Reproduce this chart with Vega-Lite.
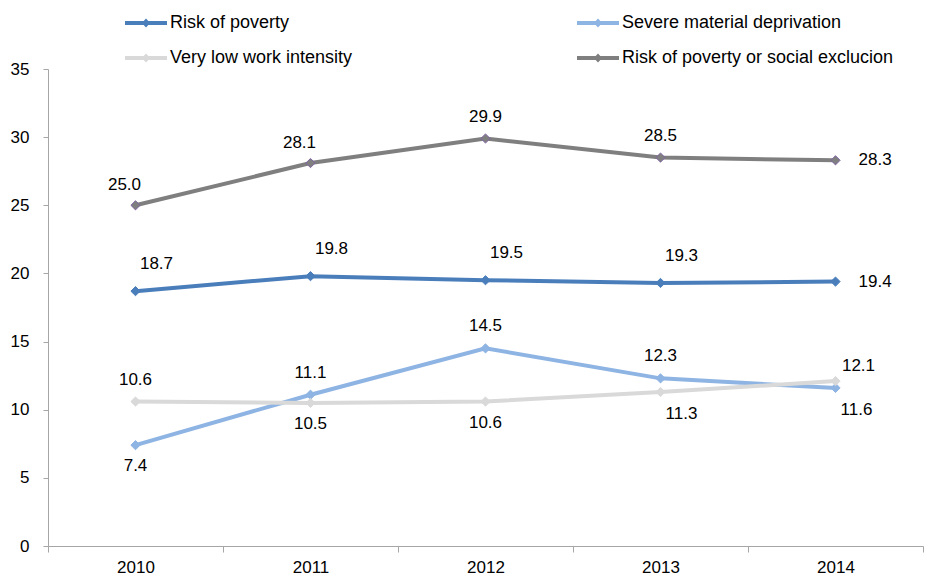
{
  "$schema": "https://vega.github.io/schema/vega-lite/v6.json",
  "width": 875,
  "height": 477,
  "autosize": "none",
  "padding": {"left": 48, "top": 69, "right": 2, "bottom": 32},
  "background": "white",
  "config": {
    "view": {"stroke": null},
    "font": "Liberation Sans",
    "axis": {"labelFont": "Liberation Sans", "labelFontSize": 17, "labelColor": "#000000", "domainColor": "#a6a6a6", "tickColor": "#a6a6a6", "grid": false, "title": null}
  },
  "data": {
    "values": [
      {"year": "2010", "series": "Risk of poverty", "value": 18.7},
      {"year": "2011", "series": "Risk of poverty", "value": 19.8},
      {"year": "2012", "series": "Risk of poverty", "value": 19.5},
      {"year": "2013", "series": "Risk of poverty", "value": 19.3},
      {"year": "2014", "series": "Risk of poverty", "value": 19.4},
      {"year": "2010", "series": "Severe material deprivation", "value": 7.4},
      {"year": "2011", "series": "Severe material deprivation", "value": 11.1},
      {"year": "2012", "series": "Severe material deprivation", "value": 14.5},
      {"year": "2013", "series": "Severe material deprivation", "value": 12.3},
      {"year": "2014", "series": "Severe material deprivation", "value": 11.6},
      {"year": "2010", "series": "Very low work intensity", "value": 10.6},
      {"year": "2011", "series": "Very low work intensity", "value": 10.5},
      {"year": "2012", "series": "Very low work intensity", "value": 10.6},
      {"year": "2013", "series": "Very low work intensity", "value": 11.3},
      {"year": "2014", "series": "Very low work intensity", "value": 12.1},
      {"year": "2010", "series": "Risk of poverty or social exclucion", "value": 25.0},
      {"year": "2011", "series": "Risk of poverty or social exclucion", "value": 28.1},
      {"year": "2012", "series": "Risk of poverty or social exclucion", "value": 29.9},
      {"year": "2013", "series": "Risk of poverty or social exclucion", "value": 28.5},
      {"year": "2014", "series": "Risk of poverty or social exclucion", "value": 28.3}
    ]
  },
  "encoding": {
    "x": {
      "field": "year", "type": "ordinal",
      "scale": {"paddingInner": 0, "paddingOuter": 0},
      "axis": {"labelAngle": 0, "tickBand": "extent", "tickSize": 6, "labelPadding": 7, "domainWidth": 1}
    },
    "y": {
      "field": "value", "type": "quantitative",
      "scale": {"domain": [0, 35], "nice": false},
      "axis": {"values": [0, 5, 10, 15, 20, 25, 30, 35], "tickSize": 5, "labelPadding": 14}
    }
  },
  "layer": [
    {
      "mark": {"type": "line", "strokeWidth": 4},
      "encoding": {
        "color": {
          "field": "series", "type": "nominal",
          "scale": {
            "domain": ["Risk of poverty", "Severe material deprivation", "Very low work intensity", "Risk of poverty or social exclucion"],
            "range": ["#4A7EBB", "#8EB4E3", "#D9D9D9", "#7F7F7F"]
          },
          "legend": {
            "title": null,
            "orient": "none",
            "legendX": 77,
            "legendY": -67,
            "direction": "horizontal",
            "columns": 2,
            "columnPadding": 135,
            "gridAlign": "all",
            "rowPadding": 5,
            "labelFont": "Liberation Sans",
            "labelFontSize": 18,
            "labelColor": "#000000",
            "labelLimit": 400,
            "labelOffset": 3,
            "symbolType": "M-1,-0.09L1,-0.09L1,0.09L-1,0.09Z M0,-0.22L0.2,0L0,0.22L-0.2,0Z",
            "symbolSize": 1764,
            "symbolStrokeWidth": 0,
            "encode": {
              "symbols": {
                "update": {
                  "fill": {"scale": "color", "field": "value"},
                  "stroke": {"value": "transparent"},
                  "strokeWidth": {"value": 0},
                  "opacity": {"value": 1}
                }
              }
            }
          }
        }
      }
    },
    {
      "mark": {"type": "point", "shape": "diamond", "filled": true, "size": 85, "strokeWidth": 1, "opacity": 1},
      "encoding": {
        "color": {"field": "series", "type": "nominal"},
        "stroke": {
          "field": "series", "type": "nominal",
          "scale": {
            "domain": ["Risk of poverty", "Severe material deprivation", "Very low work intensity", "Risk of poverty or social exclucion"],
            "range": ["#4A7EBB", "#8EB4E3", "#D9D9D9", "#8064A2"]
          },
          "legend": null
        }
      }
    },
    {
      "transform": [{"filter": "datum.series == 'Risk of poverty' && datum.year != '2014'"}],
      "mark": {"type": "text", "fontSize": 17, "color": "#000000", "dx": 21, "dy": -27},
      "encoding": {"text": {"field": "value", "format": ".1f"}}
    },
    {
      "transform": [{"filter": "datum.year == '2014' && (datum.series == 'Risk of poverty' || datum.series == 'Risk of poverty or social exclucion')"}],
      "mark": {"type": "text", "fontSize": 17, "color": "#000000", "align": "left", "dx": 23, "dy": 0},
      "encoding": {"text": {"field": "value", "format": ".1f"}}
    },
    {
      "transform": [{"filter": "(datum.series == 'Severe material deprivation' && (datum.year == '2011' || datum.year == '2012' || datum.year == '2013')) || (datum.series == 'Risk of poverty or social exclucion' && (datum.year == '2012' || datum.year == '2013')) || (datum.series == 'Very low work intensity' && datum.year == '2010')"}],
      "mark": {"type": "text", "fontSize": 17, "color": "#000000", "dy": -22},
      "encoding": {"text": {"field": "value", "format": ".1f"}}
    },
    {
      "transform": [{"filter": "datum.series == 'Risk of poverty or social exclucion' && (datum.year == '2010' || datum.year == '2011')"}],
      "mark": {"type": "text", "fontSize": 17, "color": "#000000", "dx": -11, "dy": -20},
      "encoding": {"text": {"field": "value", "format": ".1f"}}
    },
    {
      "transform": [{"filter": "(datum.series == 'Severe material deprivation' && datum.year == '2010') || (datum.series == 'Very low work intensity' && (datum.year == '2011' || datum.year == '2012'))"}],
      "mark": {"type": "text", "fontSize": 17, "color": "#000000", "dy": 21},
      "encoding": {"text": {"field": "value", "format": ".1f"}}
    },
    {
      "transform": [{"filter": "(datum.series == 'Severe material deprivation' && datum.year == '2014') || (datum.series == 'Very low work intensity' && datum.year == '2013')"}],
      "mark": {"type": "text", "fontSize": 17, "color": "#000000", "dx": 21, "dy": 22},
      "encoding": {"text": {"field": "value", "format": ".1f"}}
    },
    {
      "transform": [{"filter": "datum.series == 'Very low work intensity' && datum.year == '2014'"}],
      "mark": {"type": "text", "fontSize": 17, "color": "#000000", "dx": 23, "dy": -15},
      "encoding": {"text": {"field": "value", "format": ".1f"}}
    }
  ]
}
